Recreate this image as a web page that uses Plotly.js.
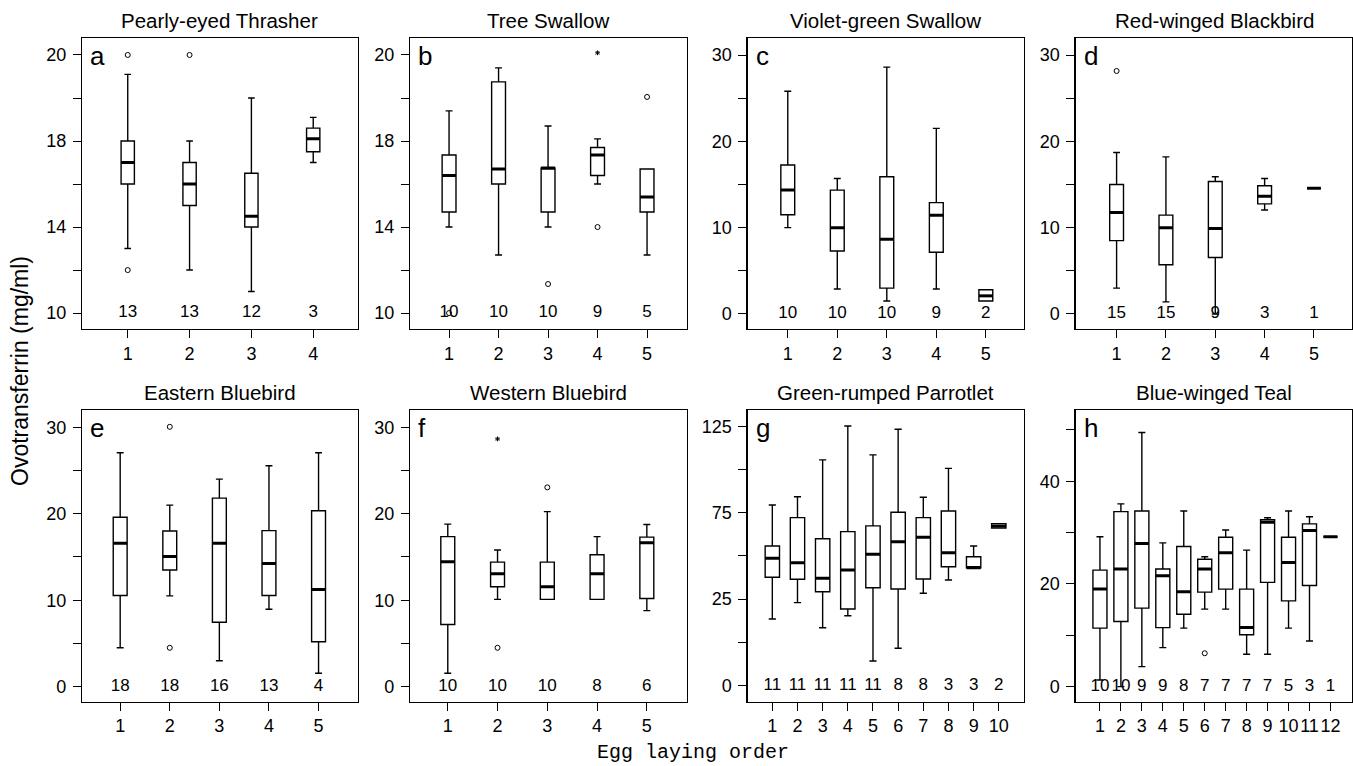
<!DOCTYPE html>
<html><head><meta charset="utf-8">
<script src="https://cdn.plot.ly/plotly-3.0.1.min.js"></script>
<style>html,body{margin:0;padding:0;background:#fff;}#chart{width:1353px;height:766px;}</style>
</head><body><div id="chart"></div>
<script>
// ---------- titles / labels ----------
const panelTitles = ['Pearly-eyed Thrasher','Tree Swallow','Violet-green Swallow','Red-winged Blackbird',
                     'Eastern Bluebird','Western Bluebird','Green-rumped Parrotlet','Blue-winged Teal'];
const panelLetters = ['a','b','c','d','e','f','g','h'];
const xAxisTitle = 'Egg laying order';
const yAxisTitle = 'Ovotransferrin (mg/ml)';

// ---------- y tick values and labels (as printed in the figure) ----------
const yTicksAB = [10,12,14,16,18,20,22];
const yTextAB  = ['10','','14','','18','','20'];
const yTicks30 = [0,5,10,15,20,25,30];
const yText30  = ['0','','10','','20','','30'];
const yTicksG  = [-25,0,25,50,75,100,125];
const yTextG   = ['0','','25','','75','','125'];
const yTicksH  = [0,10,20,30,40,50];
const yTextH   = ['0','','20','','40',''];

// ---------- a: Pearly-eyed Thrasher ----------
const aLower  = [13.0, 12.0, 11.0, 17.0];
const aQ1     = [16.0, 15.0, 14.0, 17.5];
const aMedian = [17.0, 16.0, 14.5, 18.1];
const aQ3     = [18.0, 17.0, 16.5, 18.6];
const aUpper  = [21.1, 18.0, 20.0, 19.1];
const aN      = [13, 13, 12, 3];
const aOutX   = [1, 1, 2];
const aOutY   = [22.0, 12.0, 22.0];

// ---------- b: Tree Swallow ----------
const bLower  = [14.0, 12.7, 14.0, 16.0, 12.7];
const bQ1     = [14.7, 16.0, 14.7, 16.4, 14.7];
const bMedian = [16.4, 16.7, 16.75, 17.35, 15.4];
const bQ3     = [17.35, 20.75, 16.75, 17.7, 16.7];
const bUpper  = [19.4, 21.4, 18.7, 18.1, 16.7];
const bN      = [10, 10, 10, 9, 5];
const bOutX   = [1, 3, 4, 5];
const bOutY   = [10.0, 11.35, 14.0, 20.05];
const bStarX  = [4];
const bStarY  = [22.1];

// ---------- c: Violet-green Swallow ----------
const cLower  = [10.0, 2.9, 1.5, 2.9, 1.5];
const cQ1     = [11.5, 7.3, 3.0, 7.15, 1.5];
const cMedian = [14.35, 10.0, 8.65, 11.45, 2.1];
const cQ3     = [17.25, 14.35, 15.9, 12.9, 2.8];
const cUpper  = [25.8, 15.7, 28.6, 21.5, 2.8];
const cN      = [10, 10, 10, 9, 2];

// ---------- d: Red-winged Blackbird ----------
const dLower  = [3.0, 1.4, 0.0, 12.05, 14.55];
const dQ1     = [8.5, 5.7, 6.55, 12.75, 14.55];
const dMedian = [11.75, 10.0, 9.9, 13.65, 14.55];
const dQ3     = [15.0, 11.45, 15.35, 14.85, 14.55];
const dUpper  = [18.7, 18.2, 15.9, 15.7, 14.55];
const dN      = [15, 15, 9, 3, 1];
const dOutX   = [1];
const dOutY   = [28.15];

// ---------- e: Eastern Bluebird ----------
const eLower  = [4.5, 10.5, 3.0, 8.95, 1.55];
const eQ1     = [10.55, 13.5, 7.45, 10.55, 5.2];
const eMedian = [16.6, 15.05, 16.6, 14.25, 11.25];
const eQ3     = [19.6, 18.0, 21.8, 18.05, 20.35];
const eUpper  = [27.05, 21.0, 24.0, 25.55, 27.05];
const eN      = [18, 18, 16, 13, 4];
const eOutX   = [2, 2];
const eOutY   = [30.05, 4.5];

// ---------- f: Western Bluebird ----------
const fLower  = [1.55, 10.1, 10.1, 10.1, 8.8];
const fQ1     = [7.2, 11.55, 10.1, 10.1, 10.2];
const fMedian = [14.45, 13.05, 11.55, 13.05, 16.65];
const fQ3     = [17.35, 14.4, 14.4, 15.25, 17.3];
const fUpper  = [18.8, 15.8, 20.25, 17.35, 18.75];
const fN      = [10, 10, 10, 8, 6];
const fOutX   = [2, 3];
const fOutY   = [4.5, 23.05];
const fStarX  = [2];
const fStarY  = [28.65];

// ---------- g: Green-rumped Parrotlet ----------
const gLower  = [13.4, 22.9, 8.4, 15.3, -10.9, -3.5, 28.3, 36.0, 43.1, 66.1];
const gQ1     = [37.6, 36.4, 29.2, 19.2, 31.5, 30.8, 36.6, 43.7, 43.1, 66.1];
const gMedian = [48.6, 46.0, 37.0, 41.8, 50.9, 58.2, 60.7, 51.8, 43.1, 67.2];
const gQ3     = [55.7, 72.1, 59.9, 64.0, 67.3, 75.2, 72.1, 75.9, 49.5, 68.6];
const gUpper  = [79.4, 84.2, 105.5, 125.1, 108.4, 123.2, 83.9, 100.6, 55.7, 68.6];
const gN      = [11, 11, 11, 11, 11, 8, 8, 3, 3, 2];

// ---------- h: Blue-winged Teal ----------
const hLower  = [1.3, 0.0, 3.9, 7.6, 11.4, 15.1, 15.1, 6.3, 6.3, 11.4, 8.9, 29.2];
const hQ1     = [11.4, 12.7, 15.3, 11.5, 14.1, 18.4, 19.0, 10.1, 20.3, 16.7, 19.7, 29.2];
const hMedian = [19.0, 22.9, 27.9, 21.6, 18.5, 22.9, 26.1, 11.5, 32.0, 24.2, 30.4, 29.2];
const hQ3     = [22.7, 34.1, 34.2, 22.9, 27.3, 24.8, 29.1, 19.0, 32.5, 29.1, 31.7, 29.2];
const hUpper  = [29.2, 35.6, 49.5, 28.0, 34.2, 25.3, 30.5, 26.6, 32.9, 34.2, 33.1, 29.2];
const hN      = [10, 10, 9, 9, 8, 7, 7, 7, 7, 5, 3, 1];
const hOutX   = [6];
const hOutY   = [6.5];

// ---------- assemble ----------
const panels = [
  {lo:aLower,q1:aQ1,med:aMedian,q3:aQ3,hi:aUpper,n:aN,outX:aOutX,outY:aOutY,starX:[],starY:[],yv:yTicksAB,yt:yTextAB},
  {lo:bLower,q1:bQ1,med:bMedian,q3:bQ3,hi:bUpper,n:bN,outX:bOutX,outY:bOutY,starX:bStarX,starY:bStarY,yv:yTicksAB,yt:yTextAB},
  {lo:cLower,q1:cQ1,med:cMedian,q3:cQ3,hi:cUpper,n:cN,outX:[],outY:[],starX:[],starY:[],yv:yTicks30,yt:yText30},
  {lo:dLower,q1:dQ1,med:dMedian,q3:dQ3,hi:dUpper,n:dN,outX:dOutX,outY:dOutY,starX:[],starY:[],yv:yTicks30,yt:yText30},
  {lo:eLower,q1:eQ1,med:eMedian,q3:eQ3,hi:eUpper,n:eN,outX:eOutX,outY:eOutY,starX:[],starY:[],yv:yTicks30,yt:yText30},
  {lo:fLower,q1:fQ1,med:fMedian,q3:fQ3,hi:fUpper,n:fN,outX:fOutX,outY:fOutY,starX:fStarX,starY:fStarY,yv:yTicks30,yt:yText30},
  {lo:gLower,q1:gQ1,med:gMedian,q3:gQ3,hi:gUpper,n:gN,outX:[],outY:[],starX:[],starY:[],yv:yTicksG,yt:yTextG},
  {lo:hLower,q1:hQ1,med:hMedian,q3:hQ3,hi:hUpper,n:hN,outX:hOutX,outY:hOutY,starX:[],starY:[],yv:yTicksH,yt:yTextH}
];

// ---------- layout styling ----------
const colDomains = [[0.0606,0.2644],[0.3030,0.5075],[0.5526,0.7568],[0.7950,0.9996]];
const rowDomains = [[0.5705,0.9504],[0.0842,0.4648]];
const titleY = [1 - 21/766, 1 - 393/766];
const xRanges = [[0.26,4.72],[0.21,5.80],[0.19,5.77],[0.17,5.78],[0.23,5.79],[0.24,5.80],[0.02,11.0],[-0.16,13.05]];
const yRanges = [[9.26,22.79],[9.26,22.79],[-1.74,31.97],[-1.74,31.97],[-1.71,32.0],[-1.71,32.0],[-34.3,134.4],[-2.9,53.9]];
const boxWidths = [0.215,0.28,0.28,0.28,0.28,0.28,0.57,0.67];
const FONT = 'Liberation Sans, Arial, Helvetica, sans-serif';

const traces = [];
const layout = {
  width:1353, height:766, margin:{l:0,r:0,t:0,b:0},
  paper_bgcolor:'white', plot_bgcolor:'white', showlegend:false,
  font:{family:FONT, color:'black', size:16},
  annotations:[]
};

panels.forEach((p, i) => {
  const s = i === 0 ? '' : String(i + 1);
  const xa = 'x' + s, ya = 'y' + s;
  const pos = p.med.map((_, k) => k + 1);
  const w = boxWidths[i];
  traces.push({
    type:'box', x:pos, q1:p.q1, median:p.med, q3:p.q3, lowerfence:p.lo, upperfence:p.hi,
    width:w, whiskerwidth:0.5, boxpoints:false, fillcolor:'white',
    line:{color:'black', width:1.4}, xaxis:xa, yaxis:ya, hoverinfo:'skip', showlegend:false
  });
  // thick median bars
  const mx = [], my = [];
  pos.forEach((x, k) => { mx.push(x - w/2, x + w/2, null); my.push(p.med[k], p.med[k], null); });
  traces.push({type:'scatter', mode:'lines', x:mx, y:my, line:{color:'black', width:3},
    xaxis:xa, yaxis:ya, hoverinfo:'skip', showlegend:false});
  if (p.outX.length) traces.push({type:'scatter', mode:'markers', x:p.outX, y:p.outY,
    marker:{symbol:'circle-open', size:5, color:'black', line:{width:1, color:'black'}},
    xaxis:xa, yaxis:ya, hoverinfo:'skip', showlegend:false, cliponaxis:false});
  if (p.starX.length) traces.push({type:'scatter', mode:'markers', x:p.starX, y:p.starY,
    marker:{symbol:'asterisk-open', size:4, color:'black', line:{width:1, color:'black'}},
    xaxis:xa, yaxis:ya, hoverinfo:'skip', showlegend:false, cliponaxis:false});
  // sample sizes along the bottom tick
  traces.push({type:'scatter', mode:'text', x:pos, y:pos.map(() => p.yv[0]),
    text:p.n.map(String), textposition:'middle center', textfont:{family:FONT, size:17, color:'black'},
    xaxis:xa, yaxis:ya, hoverinfo:'skip', showlegend:false, cliponaxis:false});

  const common = {showgrid:false, zeroline:false, showline:true, mirror:true, linecolor:'black', linewidth:1.2,
    ticks:'outside', ticklen:8, tickwidth:1, tickcolor:'black', tickfont:{family:FONT, size:18, color:'black'},
    tickmode:'array', fixedrange:true, tickangle:0};
  layout['xaxis' + s] = Object.assign({}, common, {domain:colDomains[i % 4], anchor:ya, range:xRanges[i],
    tickvals:pos, ticktext:pos.map(String)});
  layout['yaxis' + s] = Object.assign({}, common, {domain:rowDomains[Math.floor(i / 4)], anchor:xa, range:yRanges[i],
    tickvals:p.yv, ticktext:p.yt, ticklabelstandoff:3});

  const cd = colDomains[i % 4];
  layout.annotations.push({xref:'paper', yref:'paper', x:(cd[0] + cd[1]) / 2, y:titleY[Math.floor(i / 4)],
    yanchor:'middle', xanchor:'center', showarrow:false, text:panelTitles[i], font:{family:FONT, size:20.5, color:'black'}});
  layout.annotations.push({xref:xa + ' domain', yref:ya + ' domain', x:0.022, y:0.995, xanchor:'left', yanchor:'top',
    showarrow:false, text:panelLetters[i], font:{family:FONT, size:26, color:'black'}});
});

layout.annotations.push({xref:'paper', yref:'paper', x:20/1353, y:1 - 371/766, textangle:-90, showarrow:false,
  xanchor:'center', yanchor:'middle', text:yAxisTitle, font:{family:FONT, size:23, color:'black'}});
layout.annotations.push({xref:'paper', yref:'paper', x:693/1353, y:0, showarrow:false,
  xanchor:'center', yanchor:'bottom', text:xAxisTitle, font:{family:'Liberation Mono, Courier New, monospace', size:20, color:'black'}});

Plotly.newPlot('chart', traces, layout, {staticPlot:true, displayModeBar:false});
</script>
</body></html>
